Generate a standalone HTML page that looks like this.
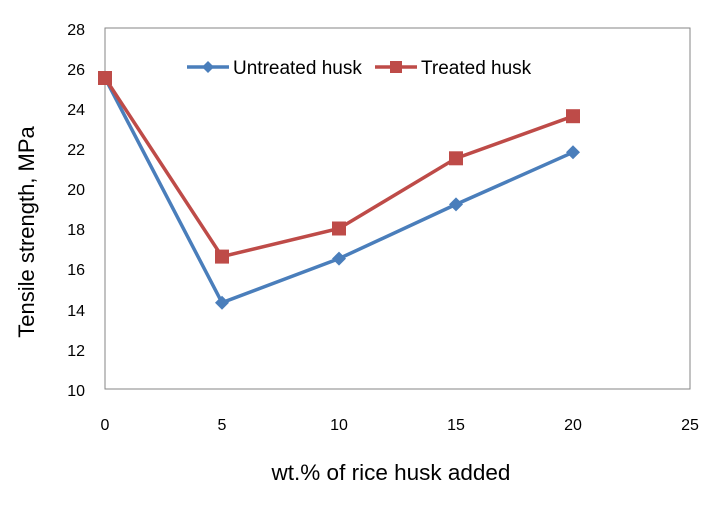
<!DOCTYPE html>
<html><head><meta charset="utf-8"><style>body{margin:0;background:#fff}</style></head><body>
<svg width="728" height="508" xmlns="http://www.w3.org/2000/svg" font-family="Liberation Sans, sans-serif">
<rect width="728" height="508" fill="#fff"/>
<rect x="105" y="28" width="585" height="361" fill="none" stroke="#868686" stroke-width="1"/>
<g font-size="16" fill="#000" text-anchor="end">
<text x="85" y="35">28</text><text x="85" y="75">26</text><text x="85" y="115">24</text>
<text x="85" y="155">22</text><text x="85" y="195">20</text><text x="85" y="235">18</text>
<text x="85" y="275">16</text><text x="85" y="316">14</text><text x="85" y="356">12</text>
<text x="85" y="396">10</text>
</g>
<g font-size="16" fill="#000" text-anchor="middle">
<text x="105" y="430">0</text><text x="222" y="430">5</text><text x="339" y="430">10</text>
<text x="456" y="430">15</text><text x="573" y="430">20</text><text x="690" y="430">25</text>
<text x="391" y="480" font-size="22.5">wt.% of rice husk added</text>
</g>
<text transform="translate(34,232) rotate(-90)" font-size="22" text-anchor="middle">Tensile strength, MPa</text>
<polyline points="105,78 222,302.7 339,258.6 456,204.4 573,152.3" fill="none" stroke="#4a7ebb" stroke-width="3.5"/>
<polyline points="105,78 222,256.6 339,228.5 456,158.3 573,116.2" fill="none" stroke="#be4b48" stroke-width="3.5"/>
<g fill="#4a7ebb">
<polygon points="105,71 112,78 105,85 98,78"/>
<polygon points="222,295.7 229,302.7 222,309.7 215,302.7"/>
<polygon points="339,251.6 346,258.6 339,265.6 332,258.6"/>
<polygon points="456,197.4 463,204.4 456,211.4 449,204.4"/>
<polygon points="573,145.3 580,152.3 573,159.3 566,152.3"/>
</g>
<g fill="#be4b48">
<rect x="98" y="71" width="14" height="14"/>
<rect x="215" y="249.6" width="14" height="14"/>
<rect x="332" y="221.5" width="14" height="14"/>
<rect x="449" y="151.3" width="14" height="14"/>
<rect x="566" y="109.2" width="14" height="14"/>
</g>
<line x1="187" y1="67" x2="229" y2="67" stroke="#4a7ebb" stroke-width="3.5"/>
<polygon points="208,61 214,67 208,73 202,67" fill="#4a7ebb"/>
<text x="233" y="74" font-size="19">Untreated husk</text>
<line x1="375" y1="67" x2="417" y2="67" stroke="#be4b48" stroke-width="3.5"/>
<rect x="390" y="61" width="12" height="12" fill="#be4b48"/>
<text x="421" y="74" font-size="19">Treated husk</text>
</svg>
</body></html>
